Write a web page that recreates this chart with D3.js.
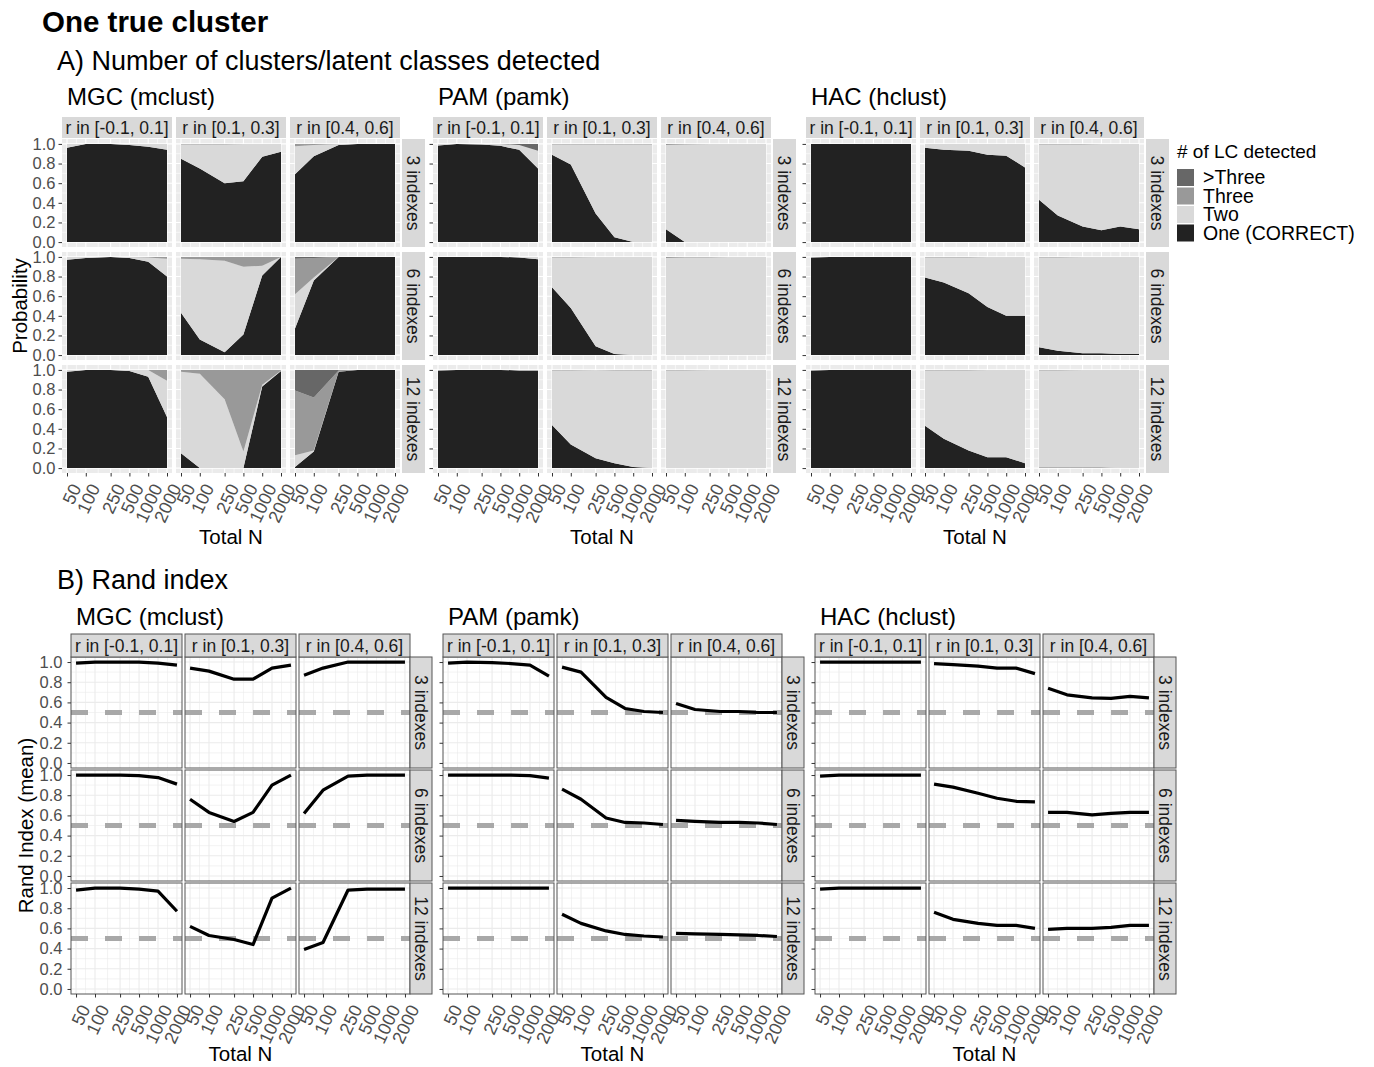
<!DOCTYPE html>
<html>
<head>
<meta charset="utf-8">
<script src="https://cdn.jsdelivr.net/npm/d3@7"></script>
<style>
  body { margin: 0; background: #fff; }
  text { font-family: "Liberation Sans", Arial, sans-serif; }
</style>
</head>
<body>
<svg id="chart" width="1374" height="1067"></svg>
<script>
// ---- data ----
const totalN = [50, 100, 250, 500, 1000, 2000];
const methods = ["MGC (mclust)", "PAM (pamk)", "HAC (hclust)"];
const rBins = ["r in [-0.1, 0.1]", "r in [0.1, 0.3]", "r in [0.4, 0.6]"];
const nIndexes = ["3 indexes", "6 indexes", "12 indexes"];
const lcLevels = [">Three", "Three", "Two", "One (CORRECT)"];
const yTicks = [0, 0.2, 0.4, 0.6, 0.8, 1.0];

// proportions, [indexes][r bin][N]
const mgcOne = [
  [[0.96, 1.00, 1.00, 0.99, 0.97, 0.94], [0.85, 0.75, 0.60, 0.62, 0.87, 0.92], [0.69, 0.875, 0.99, 1, 1, 1]],
  [[0.97, 0.99, 1.00, 0.99, 0.95, 0.80], [0.43, 0.16, 0.03, 0.21, 0.81, 1.00], [0.27, 0.76, 1, 1, 1, 1]],
  [[0.98, 1.00, 1.00, 0.99, 0.93, 0.52], [0.15, 0, 0, 0, 0.83, 0.99], [0.01, 0.17, 0.98, 1, 1, 1]]
];
const mgcTwo = [
  [[0.04, 0, 0, 0.01, 0.03, 0.06], [0.145, 0.245, 0.395, 0.38, 0.13, 0.08], [0.285, 0.115, 0.01, 0, 0, 0]],
  [[0.03, 0.01, 0, 0.01, 0.045, 0.18], [0.55, 0.815, 0.93, 0.69, 0.10, 0], [0.35, 0.03, 0, 0, 0, 0]],
  [[0.02, 0, 0, 0.01, 0.07, 0.37], [0.83, 0.96, 0.70, 0.17, 0.02, 0.005], [0.12, 0.01, 0.005, 0, 0, 0]]
];
const mgcThree = [
  [[0, 0, 0, 0, 0, 0], [0.005, 0.005, 0.005, 0, 0, 0], [0.02, 0.01, 0, 0, 0, 0]],
  [[0, 0, 0, 0, 0.005, 0.02], [0.02, 0.025, 0.04, 0.10, 0.09, 0], [0.36, 0.20, 0, 0, 0, 0]],
  [[0, 0, 0, 0, 0, 0.11], [0.02, 0.04, 0.30, 0.83, 0.15, 0.005], [0.66, 0.54, 0.01, 0, 0, 0]]
];
const mgcMore = [
  [[0, 0, 0, 0, 0, 0], [0, 0, 0, 0, 0, 0], [0.005, 0, 0, 0, 0, 0]],
  [[0, 0, 0, 0, 0, 0], [0, 0, 0, 0, 0, 0], [0.02, 0.01, 0, 0, 0, 0]],
  [[0, 0, 0, 0, 0, 0], [0, 0, 0, 0, 0, 0], [0.21, 0.28, 0.005, 0, 0, 0]]
];

const pamOne = [
  [[0.985, 1, 0.995, 0.98, 0.94, 0.75], [0.89, 0.79, 0.29, 0.05, 0, 0], [0.13, 0, 0, 0, 0, 0]],
  [[1, 1, 1, 1, 0.995, 0.975], [0.69, 0.48, 0.09, 0.01, 0, 0], [0, 0, 0, 0, 0, 0]],
  [[0.995, 1, 1, 1, 0.995, 0.995], [0.44, 0.24, 0.10, 0.05, 0.01, 0], [0, 0, 0, 0, 0, 0]]
];
const pamTwo = [
  [[0.015, 0, 0.005, 0.02, 0.05, 0.18], [0.105, 0.205, 0.705, 0.945, 0.995, 0.995], [0.86, 0.995, 1, 1, 1, 1]],
  [[0, 0, 0, 0, 0.005, 0.025], [0.305, 0.515, 0.91, 0.99, 1, 1], [0.99, 0.995, 0.995, 1, 1, 1]],
  [[0.005, 0, 0, 0, 0.005, 0.005], [0.555, 0.755, 0.90, 0.945, 0.985, 0.995], [0.995, 0.995, 1, 1, 1, 1]]
];
const pamThree = [
  [[0, 0, 0, 0, 0, 0], [0.005, 0.005, 0.005, 0.005, 0.005, 0.005], [0.01, 0.005, 0, 0, 0, 0]],
  [[0, 0, 0, 0, 0, 0], [0.005, 0.005, 0, 0, 0, 0], [0.01, 0.005, 0.005, 0, 0, 0]],
  [[0, 0, 0, 0, 0, 0], [0.005, 0.005, 0, 0.005, 0.005, 0.005], [0.005, 0.005, 0, 0, 0, 0]]
];
const pamMore = [
  [[0, 0, 0, 0, 0.01, 0.07], [0, 0, 0, 0, 0, 0], [0, 0, 0, 0, 0, 0]],
  [[0, 0, 0, 0, 0, 0], [0, 0, 0, 0, 0, 0], [0, 0, 0, 0, 0, 0]],
  [[0, 0, 0, 0, 0, 0], [0, 0, 0, 0, 0, 0], [0, 0, 0, 0, 0, 0]]
];

const hacOne = [
  [[1, 1, 1, 1, 1, 1], [0.96, 0.94, 0.93, 0.89, 0.88, 0.76], [0.43, 0.27, 0.16, 0.12, 0.16, 0.13]],
  [[0.995, 1, 1, 1, 1, 1], [0.79, 0.74, 0.63, 0.49, 0.40, 0.40], [0.08, 0.045, 0.02, 0.02, 0.01, 0.01]],
  [[0.995, 1, 1, 1, 1, 1], [0.43, 0.30, 0.18, 0.11, 0.11, 0.05], [0.005, 0.005, 0.005, 0.005, 0, 0]]
];
const hacTwo = [
  [[0, 0, 0, 0, 0, 0], [0.04, 0.06, 0.07, 0.11, 0.12, 0.24], [0.565, 0.725, 0.835, 0.88, 0.84, 0.87]],
  [[0.005, 0, 0, 0, 0, 0], [0.205, 0.255, 0.365, 0.51, 0.60, 0.60], [0.915, 0.95, 0.98, 0.98, 0.99, 0.99]],
  [[0.005, 0, 0, 0, 0, 0], [0.565, 0.695, 0.815, 0.89, 0.89, 0.95], [0.99, 0.99, 0.995, 0.995, 1, 1]]
];
const hacThree = [
  [[0, 0, 0, 0, 0, 0], [0, 0, 0, 0, 0, 0], [0.005, 0.005, 0.005, 0, 0, 0]],
  [[0, 0, 0, 0, 0, 0], [0.005, 0.005, 0.005, 0, 0, 0], [0.005, 0.005, 0, 0, 0, 0]],
  [[0, 0, 0, 0, 0, 0], [0.005, 0.005, 0.005, 0, 0, 0], [0.005, 0.005, 0, 0, 0, 0]]
];
const hacMore = [
  [[0, 0, 0, 0, 0, 0], [0, 0, 0, 0, 0, 0], [0, 0, 0, 0, 0, 0]],
  [[0, 0, 0, 0, 0, 0], [0, 0, 0, 0, 0, 0], [0, 0, 0, 0, 0, 0]],
  [[0, 0, 0, 0, 0, 0], [0, 0, 0, 0, 0, 0], [0, 0, 0, 0, 0, 0]]
];

// mean Rand index, [indexes][r bin][N]
const mgcRand = [
  [[0.99, 1.0, 1.0, 1.0, 0.99, 0.97], [0.94, 0.91, 0.83, 0.83, 0.94, 0.97], [0.87, 0.94, 1.0, 1.0, 1.0, 1.0]],
  [[1.0, 1.0, 1.0, 0.995, 0.975, 0.91], [0.76, 0.63, 0.54, 0.63, 0.90, 1.0], [0.62, 0.85, 0.99, 1.0, 1.0, 1.0]],
  [[0.98, 1.0, 1.0, 0.99, 0.97, 0.77], [0.62, 0.53, 0.49, 0.44, 0.90, 1.0], [0.39, 0.46, 0.98, 0.99, 0.99, 0.99]]
];
const pamRand = [
  [[0.99, 1.0, 0.995, 0.985, 0.97, 0.86], [0.95, 0.90, 0.65, 0.54, 0.51, 0.50], [0.59, 0.53, 0.51, 0.51, 0.50, 0.50]],
  [[1.0, 1.0, 1.0, 1.0, 0.995, 0.97], [0.86, 0.76, 0.575, 0.53, 0.525, 0.51], [0.55, 0.54, 0.53, 0.53, 0.525, 0.51]],
  [[1.0, 1.0, 1.0, 1.0, 1.0, 1.0], [0.74, 0.65, 0.575, 0.54, 0.525, 0.515], [0.55, 0.545, 0.54, 0.535, 0.53, 0.52]]
];
const hacRand = [
  [[1, 1, 1, 1, 1, 1], [0.985, 0.975, 0.96, 0.94, 0.94, 0.885], [0.74, 0.675, 0.645, 0.64, 0.66, 0.645]],
  [[0.99, 1, 1, 1, 1, 1], [0.91, 0.88, 0.82, 0.77, 0.74, 0.735], [0.63, 0.63, 0.605, 0.62, 0.63, 0.63]],
  [[0.99, 1, 1, 1, 1, 1], [0.76, 0.69, 0.65, 0.63, 0.63, 0.60], [0.59, 0.60, 0.60, 0.61, 0.63, 0.63]]
];
const randChance = 0.5;

// ---- drawing ----
const lcColors = {more: "#676767", three: "#999999", two: "#d9d9d9", one: "#222222"};
const lcKeys = ["one", "two", "three", "more"];
const probData = [
  {one: mgcOne, two: mgcTwo, three: mgcThree, more: mgcMore},
  {one: pamOne, two: pamTwo, three: pamThree, more: pamMore},
  {one: hacOne, two: hacTwo, three: hacThree, more: hacMore}
];
const randData = [mgcRand, pamRand, hacRand];

const svg = d3.select("#chart");

svg.append("text").text("One true cluster")
  .attr("x", 42).attr("y", 32)
  .attr("font-size", 29.5).attr("font-weight", "bold");
svg.append("text").text("A) Number of clusters/latent classes detected")
  .attr("x", 57).attr("y", 70).attr("font-size", 27);
svg.append("text").text("B) Rand index")
  .attr("x", 57).attr("y", 589).attr("font-size", 27);

function logExpand(lo, hi) {
  let a = Math.log10(lo), b = Math.log10(hi), e = (b - a) * 0.05;
  return [Math.pow(10, a - e), Math.pow(10, b + e)];
}

function minorBetween(vals, f) {
  let out = [];
  for (let i = 0; i < vals.length - 1; i++) out.push(f(vals[i], vals[i + 1]));
  return out;
}

let secA = {
  subX: [62, 433, 806], panelW: 110, gapX: 4, panelH: 108, rowTops: [139, 252, 365],
  stripTop: 117, stripH: 21, stripGap: 2, rStripW: 23, titleY: 105, bordered: false,
  yPad: 3, xTitleOff: 71
};
let secB = {
  subX: [71, 443, 815], panelW: 111, gapX: 3, panelH: 111, rowTops: [657, 770, 883],
  stripTop: 634, stripH: 23, stripGap: 0, rStripW: 22, titleY: 625, bordered: true,
  yPad: 5, xTitleOff: 67
};

function drawSection(cfg, kind) {
  let x = d3.scaleLog().domain(logExpand(50, 2000)).range([0, cfg.panelW]);
  let y = d3.scaleLinear().domain([-0.05, 1.05]).range([cfg.panelH, 0]);
  let xMinor = minorBetween(totalN, (a, b) => Math.sqrt(a * b));
  let yMinor = minorBetween(yTicks, (a, b) => (a + b) / 2);
  let bottom = cfg.rowTops[2] + cfg.panelH;

  methods.forEach(function(m, mi) {
    let x0 = cfg.subX[mi];
    svg.append("text").text(m)
      .attr("x", x0 + 5).attr("y", cfg.titleY).attr("font-size", 24);

    nIndexes.forEach(function(ix, ri) {
      rBins.forEach(function(rb, ci) {
        let px = x0 + ci * (cfg.panelW + cfg.gapX);
        let g = svg.append("g").attr("transform", "translate(" + px + "," + cfg.rowTops[ri] + ")");
        let gridCol = kind === "prob" ? "#ffffff" : "#ebebeb";

        g.append("rect").attr("width", cfg.panelW).attr("height", cfg.panelH)
          .attr("fill", kind === "prob" ? "#ebebeb" : "#ffffff");

        g.selectAll(".xminor").data(xMinor).enter().append("line")
          .attr("x1", d => x(d)).attr("x2", d => x(d)).attr("y1", 0).attr("y2", cfg.panelH)
          .attr("stroke", gridCol).attr("stroke-width", 0.6);
        g.selectAll(".yminor").data(yMinor).enter().append("line")
          .attr("y1", d => y(d)).attr("y2", d => y(d)).attr("x1", 0).attr("x2", cfg.panelW)
          .attr("stroke", gridCol).attr("stroke-width", 0.6);
        g.selectAll(".xmajor").data(totalN).enter().append("line")
          .attr("x1", d => x(d)).attr("x2", d => x(d)).attr("y1", 0).attr("y2", cfg.panelH)
          .attr("stroke", gridCol).attr("stroke-width", 1.1);
        g.selectAll(".ymajor").data(yTicks).enter().append("line")
          .attr("y1", d => y(d)).attr("y2", d => y(d)).attr("x1", 0).attr("x2", cfg.panelW)
          .attr("stroke", gridCol).attr("stroke-width", 1.1);

        if (kind === "prob") {
          let src = probData[mi];
          let rows = totalN.map(function(n, k) {
            return {n: n, one: src.one[ri][ci][k], two: src.two[ri][ci][k],
                    three: src.three[ri][ci][k], more: src.more[ri][ci][k]};
          });
          let series = d3.stack().keys(lcKeys)(rows);
          let area = d3.area()
            .x(d => x(d.data.n))
            .y0(d => y(d[0]))
            .y1(d => y(d[1]));
          g.selectAll(".layer").data(series).enter().append("path")
            .attr("d", area)
            .attr("fill", d => lcColors[d.key]);
        } else {
          let vals = randData[mi][ri][ci];
          g.append("line")
            .attr("x1", 0).attr("x2", cfg.panelW)
            .attr("y1", y(randChance)).attr("y2", y(randChance))
            .attr("stroke", "#a8a8a8").attr("stroke-width", 5)
            .attr("stroke-dasharray", "17,17");
          let line = d3.line().x(d => x(d.n)).y(d => y(d.v));
          g.append("path")
            .datum(totalN.map((n, k) => ({n: n, v: vals[k]})))
            .attr("d", line)
            .attr("fill", "none").attr("stroke", "#000")
            .attr("stroke-width", 3.2).attr("stroke-linejoin", "round");
          g.append("rect").attr("width", cfg.panelW).attr("height", cfg.panelH)
            .attr("fill", "none").attr("stroke", "#555").attr("stroke-width", 1);
        }

        // top strip
        if (ri === 0) {
          let s = svg.append("g").attr("transform", "translate(" + px + "," + cfg.stripTop + ")");
          s.append("rect").attr("width", cfg.panelW).attr("height", cfg.stripH)
            .attr("fill", "#d9d9d9")
            .attr("stroke", cfg.bordered ? "#555" : "none").attr("stroke-width", 1);
          s.append("text").text(rb)
            .attr("x", cfg.panelW / 2).attr("y", cfg.stripH / 2).attr("dy", "0.35em")
            .attr("text-anchor", "middle").attr("font-size", 17.5).attr("fill", "#1a1a1a");
        }
        // right strip
        if (ci === 2) {
          let sx = px + cfg.panelW + cfg.stripGap;
          let s = svg.append("g").attr("transform", "translate(" + sx + "," + cfg.rowTops[ri] + ")");
          s.append("rect").attr("width", cfg.rStripW).attr("height", cfg.panelH)
            .attr("fill", "#d9d9d9")
            .attr("stroke", cfg.bordered ? "#555" : "none").attr("stroke-width", 1);
          s.append("text").text(ix)
            .attr("transform", "translate(" + (cfg.rStripW / 2) + "," + (cfg.panelH / 2) + ") rotate(90)")
            .attr("dy", "0.35em")
            .attr("text-anchor", "middle").attr("font-size", 17.5).attr("fill", "#1a1a1a");
        }

        // y axis on first column
        if (ci === 0) {
          let ya = g.append("g").call(d3.axisLeft(y).tickValues(yTicks).tickSize(3.5)
            .tickPadding(cfg.yPad)
            .tickFormat(mi === 0 ? d3.format(".1f") : () => ""));
          ya.select(".domain").remove();
          ya.selectAll("line").attr("stroke", "#333");
          ya.selectAll("text").attr("font-size", 16.5).attr("fill", "#4d4d4d")
            .attr("font-family", "Liberation Sans, Arial, sans-serif");
        }
        // x axis on bottom row
        if (ri === 2) {
          let xa = g.append("g").attr("transform", "translate(0," + cfg.panelH + ")")
            .call(d3.axisBottom(x).tickValues(totalN).tickSize(3.5).tickFormat(d => d));
          xa.select(".domain").remove();
          xa.selectAll("line").attr("stroke", "#333");
          xa.selectAll("text")
            .attr("x", 0).attr("y", 0).attr("dy", "0.75em")
            .attr("transform", "translate(2,9) rotate(-65)")
            .style("text-anchor", "end")
            .attr("font-size", 18).attr("fill", "#4d4d4d")
            .attr("font-family", "Liberation Sans, Arial, sans-serif");
        }
      });
    });

    let panelsW = 3 * cfg.panelW + 2 * cfg.gapX;
    svg.append("text").text("Total N")
      .attr("x", x0 + panelsW / 2).attr("y", bottom + cfg.xTitleOff)
      .attr("text-anchor", "middle").attr("font-size", 20.5);
  });
}

drawSection(secA, "prob");
drawSection(secB, "rand");

svg.append("text").text("Probability")
  .attr("transform", "translate(27," + ((secA.rowTops[0] + secA.rowTops[2] + secA.panelH) / 2) + ") rotate(-90)")
  .attr("text-anchor", "middle").attr("font-size", 20.5);
svg.append("text").text("Rand Index (mean)")
  .attr("transform", "translate(33," + ((secB.rowTops[0] + secB.rowTops[2] + secB.panelH) / 2) + ") rotate(-90)")
  .attr("text-anchor", "middle").attr("font-size", 20.5);

// legend
let legend = svg.append("g").attr("transform", "translate(1177,140)");
legend.append("text").text("# of LC detected")
  .attr("x", 0).attr("y", 18).attr("font-size", 19);
let legendKeys = ["more", "three", "two", "one"];
lcLevels.forEach(function(lab, i) {
  legend.append("rect")
    .attr("x", 0).attr("y", 29 + i * 18.5).attr("width", 17).attr("height", 17)
    .attr("fill", lcColors[legendKeys[i]]);
  legend.append("text").text(lab)
    .attr("x", 26).attr("y", 29 + i * 18.5 + 8.5).attr("dy", "0.35em")
    .attr("font-size", 19.5);
});
</script>
</body>
</html>
